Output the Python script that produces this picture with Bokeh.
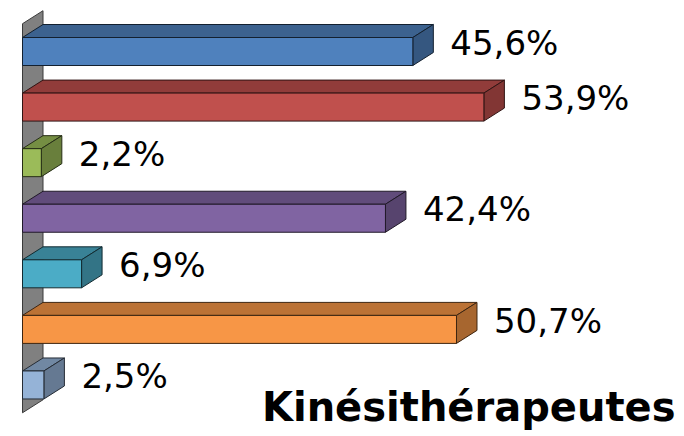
from bokeh.plotting import figure
from bokeh.models import Range1d, Label, ColumnDataSource
from bokeh.embed import file_html
from bokeh.resources import INLINE
from bokeh.core.properties import value

# ---- data ----
values = [45.6, 53.9, 2.2, 42.4, 6.9, 50.7, 2.5]
labels = ["45,6%", "53,9%", "2,2%", "42,4%", "6,9%", "50,7%", "2,5%"]
front_colors = ["#4F81BD", "#C0504D", "#9BBB59", "#8064A2", "#4BACC6", "#F79646", "#95B3D7"]
title_text = "Kinésithérapeutes"

# ---- geometry (styles) ----
W, H = 684, 436
PX_PER_X = 8.56
PX_PER_Y = 55.58
x0_px = 22
X_START = -x0_px / PX_PER_X
X_END = (W - x0_px) / PX_PER_X
Y_END = 6 + 51 / PX_PER_Y
Y_START = Y_END - H / PX_PER_Y

DX = 20.5 / PX_PER_X     # depth offset in x
DY = 13 / PX_PER_Y       # depth offset in y
HH = 14 / PX_PER_Y       # half bar height
GAP = 17 / PX_PER_X      # gap between bar and label


def shade(hexcol, f):
    h = hexcol.lstrip("#")
    r, g, b = (int(h[i:i + 2], 16) for i in (0, 2, 4))
    return "#%02x%02x%02x" % (int(r * f), int(g * f), int(b * f))


p = figure(width=W, height=H, output_backend="svg", toolbar_location=None,
           x_range=Range1d(X_START, X_END), y_range=Range1d(Y_START, Y_END),
           x_axis_location=None, y_axis_location=None, min_border=0,
           outline_line_color=None, background_fill_color="white",
           border_fill_color="white")
p.xgrid.visible = False
p.ygrid.visible = False

n = len(values)
centers = [n - 1 - i for i in range(n)]

# wall
wall_bot = -0.5
wall_top = n - 0.5
p.patch([0, DX, DX, 0], [wall_bot, wall_bot + DY, wall_top + DY, wall_top],
        fill_color="#808080", line_color="#3a3a3a", line_width=1)

# bars
fx, fy, tx, ty, sx, sy = [], [], [], [], [], []
fc, tc, sc, lc = [], [], [], []
for v, c, col in zip(values, centers, front_colors):
    lo, hi = c - HH, c + HH
    fx.append([0, v, v, 0]); fy.append([lo, lo, hi, hi])
    tx.append([0, v, v + DX, DX]); ty.append([hi, hi, hi + DY, hi + DY])
    sx.append([v, v + DX, v + DX, v]); sy.append([lo, lo + DY, hi + DY, hi])
    fc.append(col); tc.append(shade(col, 0.76)); sc.append(shade(col, 0.68))
    lc.append(shade(col, 0.25))

p.patches(tx, ty, fill_color=tc, line_color=lc, line_width=1)
p.patches(sx, sy, fill_color=sc, line_color=lc, line_width=1)
p.patches(fx, fy, fill_color=fc, line_color=lc, line_width=1)

# value labels
src = ColumnDataSource(dict(x=[v + DX + GAP for v in values],
                            y=[c + 0.16 for c in centers],
                            t=labels))
p.text(x="x", y="y", text="t", source=src, text_font=value("DejaVu Sans"),
       text_font_size="34px", text_color="black", text_baseline="alphabetic",
       text_align="left")

# title
p.add_layout(Label(x=675, y=30, x_units="screen", y_units="screen",
                   text=title_text, text_font="DejaVu Sans", text_font_style="bold",
                   text_font_size="40px", text_color="black",
                   text_align="right", text_baseline="alphabetic"))

open("out.html", "w").write(file_html(p, INLINE))
